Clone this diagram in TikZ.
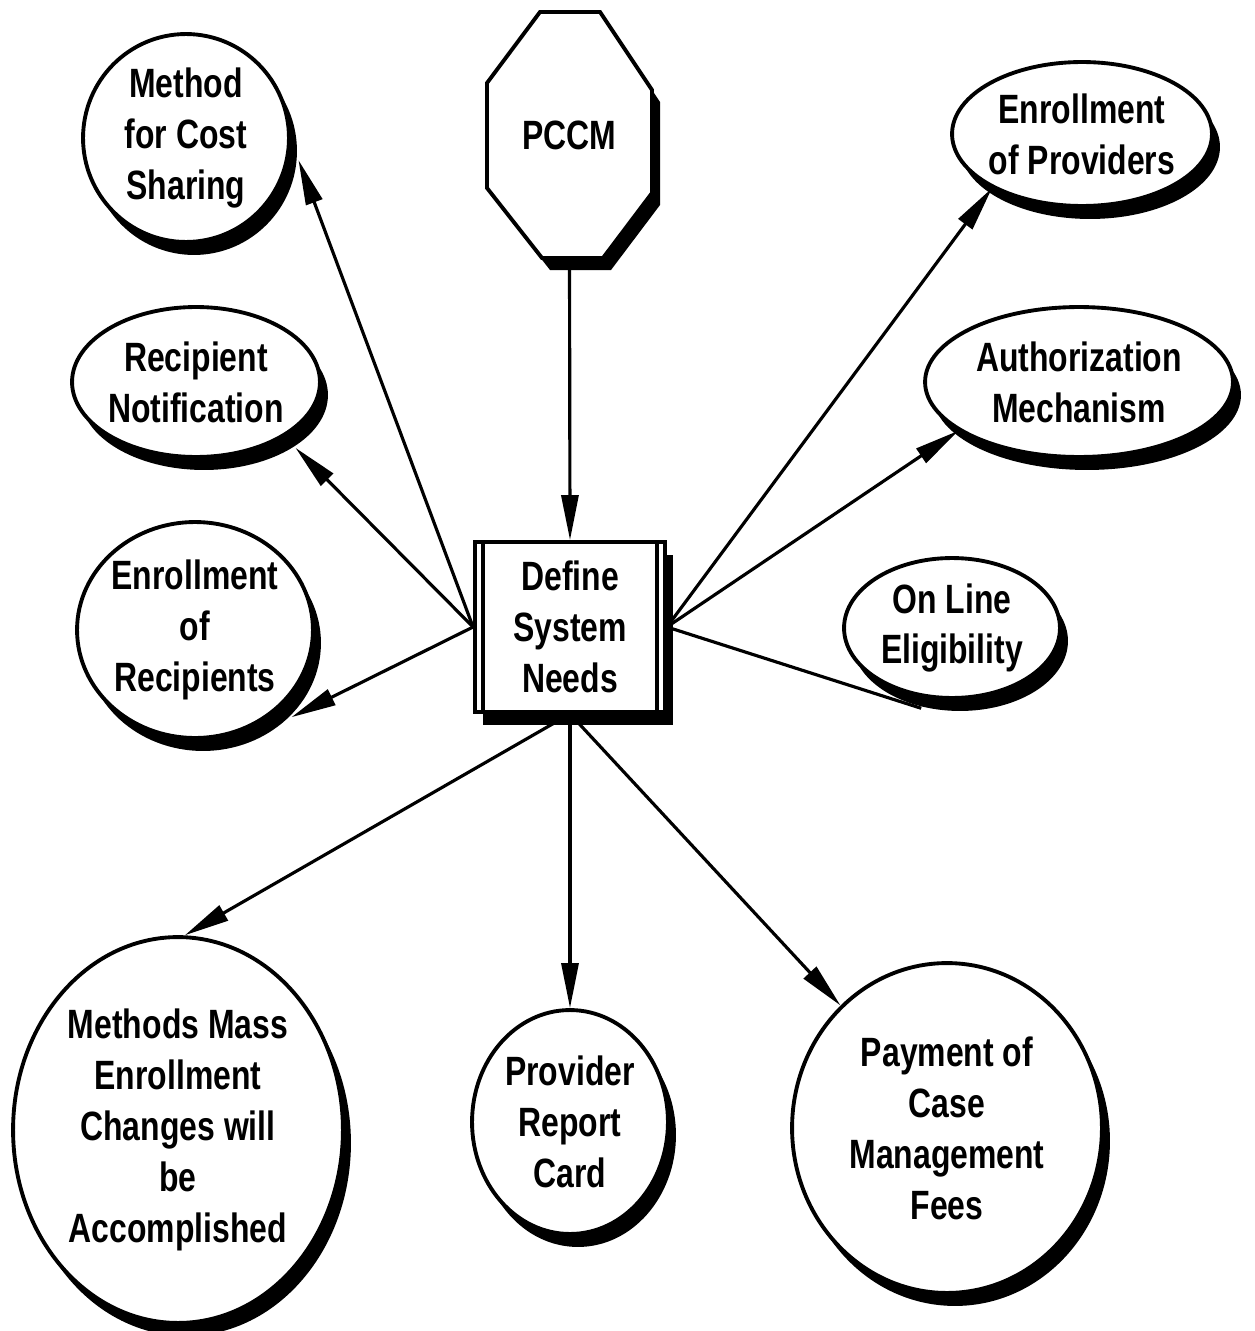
\documentclass[tikz,border=0pt]{standalone}
\usepackage{fontspec}
\setmainfont{Liberation Sans}[FakeStretch=0.78]
\usetikzlibrary{shapes.geometric,shadows,arrows.meta}

\begin{document}
\begin{tikzpicture}[x=0.02cm,y=-0.02cm,
  every node/.style={font=\fontsize{23.3}{29}\selectfont\bfseries, align=center},
  solidshadow/.style={drop shadow={shadow xshift=0.16cm, shadow yshift=-0.26cm, opacity=1, fill=black}},
  % radii given in units of 0.02cm; negative inner sep lets the fixed size decide the outline
  bubble/.style 2 args={ellipse, draw, line width=2.2pt, fill=white, inner sep=-3cm,
    minimum width={#1*0.04cm}, minimum height={#2*0.04cm}, solidshadow},
  link/.style={line width=1.8pt},
  flow/.style={link, -{Triangle[length=0.9cm,width=0.34cm]}},
  sh/.style={xshift=0.16cm, yshift=-0.26cm},
]
\useasboundingbox[fill=white] (0,0) rectangle (1254,1331);

% octagon for PCCM, with its offset shadow
\fill[black, shift={(8,12)}] (540,12) -- (600,12) -- (652,90) -- (652,193) -- (603,258) -- (542,258) -- (487,188) -- (487,83) -- cycle;
\filldraw[fill=white, line width=2.2pt] (540,12) -- (600,12) -- (652,90) -- (652,193) -- (603,258) -- (542,258) -- (487,188) -- (487,83) -- cycle;
\node[minimum width={165*0.02cm}, minimum height={246*0.02cm}, inner sep=0pt] (pccm) at (569.5,135) {PCCM};

% central process box with double side bars
\node[draw, line width=2.2pt, fill=white, inner sep=0pt, solidshadow,
      minimum width={190*0.02cm}, minimum height={170*0.02cm}] (sys) at (570,627) {Define\\System\\Needs};
\draw[link] ([xshift=0.2cm]sys.north west) -- ([xshift=0.2cm]sys.south west);
\draw[link] ([xshift=-0.2cm]sys.north east) -- ([xshift=-0.2cm]sys.south east);

% surrounding topics
\node[bubble={103}{104}] (cost)  at (186,138)  {Method\\for Cost\\Sharing};
\node[bubble={130}{72}]  (eprov) at (1082,134) {Enrollment\\of Providers};
\node[bubble={124}{75}]  (rnot)  at (196,382)  {Recipient\\Notification};
\node[bubble={154}{75}]  (auth)  at (1079,382) {Authorization\\Mechanism};
\node[bubble={118}{108}] (erec)  at (195,630)  {Enrollment\\of\\Recipients};
\node[bubble={108}{70}]  (elig)  at (952,628)  {On Line\\Eligibility};
\node[bubble={165}{193}] (mass)  at (178,1130) {Methods Mass\\Enrollment\\Changes will\\be\\Accomplished};
\node[bubble={98}{112}]  (card)  at (570,1122) {Provider\\Report\\Card};
\node[bubble={155}{165}] (pay)   at (947,1128) {Payment of\\Case\\Management\\Fees};

% connectors
\draw[flow] (pccm.south) -- (sys.north);
\draw[flow] (sys.west) -- ([sh]cost.-5);
\draw[flow] (sys.west) -- ([sh]rnot.-30);
\draw[flow] (sys.west) -- ([sh]erec.-40);
\draw[flow] (sys.east) -- (eprov.211);
\draw[flow] (sys.east) -- (auth.202);
\draw[link] (sys.east) -- ([sh]elig.240);
\draw[flow] (sys.south) -- (mass.88);
\draw[flow] (sys.south) -- (card.north);
\draw[flow] (sys.south) -- (pay.131);
\end{tikzpicture}
\end{document}
